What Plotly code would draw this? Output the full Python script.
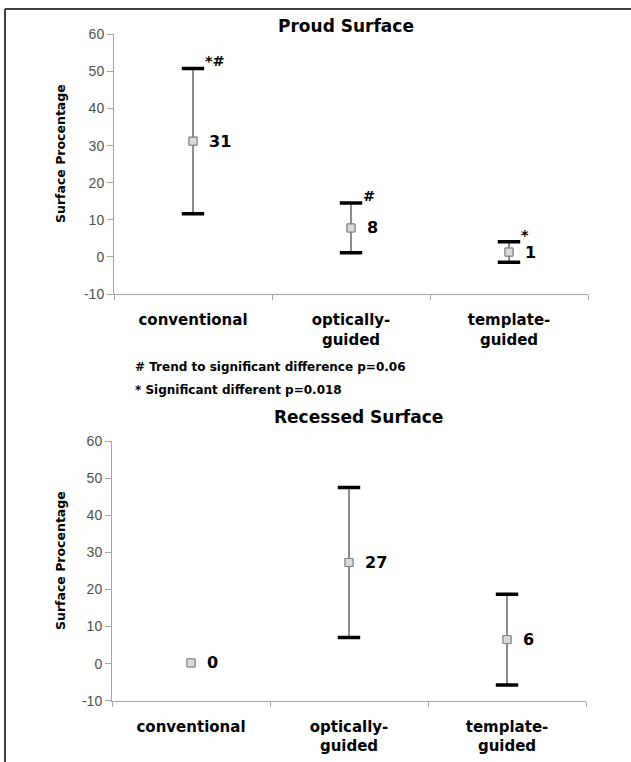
import plotly.graph_objects as go

categories = ["conventional", "optically-<br>guided", "template-<br>guided"]
proud_mean = [31.2, 7.8, 1.3]
proud_err = [19.6, 6.7, 2.75]
proud_labels = ["31", "8", "1"]
proud_marks = ["*#", "#", "*"]
recessed_mean = [0.2, 27.3, 6.5]
recessed_err = [0.0, 20.25, 12.25]
recessed_labels = ["0", "27", "6"]
y_ticks = [-10, 0, 10, 20, 30, 40, 50, 60]
y_ticktext = ["-10", "0", "10", "20", "30", "40", "50", "60"]
notes = ["# Trend to significant difference p=0.06", "* Significant different p=0.018"]
y_title = "Surface Procentage"

BOLD = "DejaVu Sans"
W, H = 631, 762

fig = go.Figure()

def add_panel(mean, err, xa, ya):
    fig.add_trace(go.Scatter(
        x=categories, y=mean, mode="markers", xaxis=xa, yaxis=ya,
        marker=dict(symbol="square", size=8, color="#d9d9d9",
                    line=dict(color="#7f7f7f", width=1)),
        error_y=dict(type="data", array=err, visible=True, thickness=1.2,
                     width=0, color="#404040"),
        showlegend=False, hoverinfo="skip"))
    cx, cy = [], []
    for c, m, e in zip(categories, mean, err):
        if e > 0:
            cx += [c, c]
            cy += [m + e, m - e]
    fig.add_trace(go.Scatter(
        x=cx, y=cy, mode="markers", xaxis=xa, yaxis=ya,
        marker=dict(symbol="line-ew", size=16, line=dict(color="black", width=3.5)),
        showlegend=False, hoverinfo="skip"))
    fig.add_trace(go.Scatter(
        x=categories, y=mean, mode="markers", xaxis=xa, yaxis=ya,
        marker=dict(symbol="square", size=8, color="#d9d9d9",
                    line=dict(color="#7f7f7f", width=1)),
        showlegend=False, hoverinfo="skip"))

add_panel(proud_mean, proud_err, "x", "y")
add_panel(recessed_mean, recessed_err, "x2", "y2")

ann = []
for c, m, t in zip(categories, proud_mean, proud_labels):
    ann.append(dict(x=c, y=m, xref="x", yref="y", text=t, showarrow=False,
                    xanchor="left", yanchor="middle", xshift=14,
                    font=dict(family=BOLD, size=16, color="black", weight="bold")))
for c, m, t in zip(categories, recessed_mean, recessed_labels):
    ann.append(dict(x=c, y=m, xref="x2", yref="y2", text=t, showarrow=False,
                    xanchor="left", yanchor="middle", xshift=14,
                    font=dict(family=BOLD, size=16, color="black", weight="bold")))
for c, m, e, t in zip(categories, proud_mean, proud_err, proud_marks):
    ann.append(dict(x=c, y=m + e, xref="x", yref="y", text=t, showarrow=False,
                    xanchor="left", yanchor="bottom", xshift=10, yshift=-3,
                    font=dict(family=BOLD, size=14.5, color="black", weight="bold")))
ann.append(dict(x=133 / W, y=1 - 367 / H, xref="paper", yref="paper", text=notes[0],
                showarrow=False, xanchor="left", yanchor="middle",
                font=dict(family=BOLD, size=12, color="black", weight="bold")))
ann.append(dict(x=133 / W, y=1 - 390 / H, xref="paper", yref="paper", text=notes[1],
                showarrow=False, xanchor="left", yanchor="middle",
                font=dict(family=BOLD, size=12, color="black", weight="bold")))
ann.append(dict(x=346 / W, y=1 - 26 / H, xref="paper", yref="paper", text="Proud Surface",
                showarrow=False, xanchor="center", yanchor="middle",
                font=dict(family=BOLD, size=17, color="black", weight="bold")))
ann.append(dict(x=358 / W, y=1 - 417 / H, xref="paper", yref="paper", text="Recessed Surface",
                showarrow=False, xanchor="center", yanchor="middle",
                font=dict(family=BOLD, size=17, color="black", weight="bold")))
for yc in (154, 561):
    ann.append(dict(x=60 / W, y=1 - yc / H, xref="paper", yref="paper", text=y_title,
                    showarrow=False, xanchor="center", yanchor="middle", textangle=-90,
                    font=dict(family=BOLD, size=12.5, color="black", weight="bold")))

xcommon = dict(type="category", tickson="boundaries", ticks="outside", ticklen=5,
               tickcolor="#a6a6a6", showline=True, linecolor="#a6a6a6", linewidth=1,
               showgrid=False, zeroline=False, range=[-0.5, 2.5], fixedrange=True,
               automargin=False,
               tickfont=dict(family=BOLD, size=15, color="black", weight="bold"),
               ticklabelstandoff=12)
ycommon = dict(range=[-10, 60], tickvals=y_ticks, ticktext=y_ticktext, ticks="outside", ticklen=6,
               tickcolor="#a6a6a6", showline=True, linecolor="#a6a6a6", linewidth=1,
               showgrid=False, zeroline=False, fixedrange=True, automargin=False,
               tickfont=dict(family="Liberation Sans", size=14, color="#505050"))

fig.update_layout(
    width=W, height=H, margin=dict(l=0, r=0, t=0, b=0, autoexpand=False),
    paper_bgcolor="white", plot_bgcolor="white",
    xaxis=dict(domain=[114 / W, 588 / W], anchor="y", **xcommon),
    yaxis=dict(domain=[1 - 294 / H, 1 - 34.3 / H], anchor="x", **ycommon),
    xaxis2=dict(domain=[112 / W, 586 / W], anchor="y2", **xcommon),
    yaxis2=dict(domain=[1 - 700.7 / H, 1 - 441.3 / H], anchor="x2", **ycommon),
    annotations=ann,
    shapes=[
        dict(type="line", xref="paper", yref="paper", x0=5 / W, x1=1, y0=1 - 9 / H, y1=1 - 9 / H,
             line=dict(color="#404040", width=2)),
        dict(type="line", xref="paper", yref="paper", x0=5 / W, x1=5 / W, y0=0, y1=1 - 9 / H,
             line=dict(color="#404040", width=2)),
    ],
)

fig.write_html("out.html", config={"displayModeBar": False, "staticPlot": True},
               post_script="document.body.style.margin='0';document.body.style.overflow='hidden';")
